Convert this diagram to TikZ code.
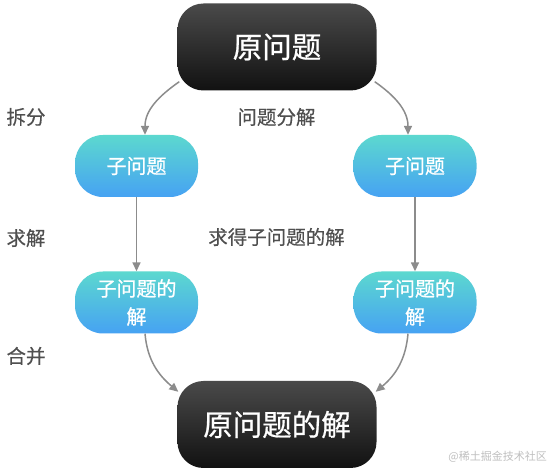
\documentclass[tikz,border=0pt]{standalone}
\usepackage{fontspec}
\setmainfont{Noto Sans CJK SC}
\newfontfamily\medfont[FakeBold=0.7]{Noto Sans CJK SC}
\newfontfamily\lblfont[FakeBold=0.3]{Noto Sans CJK SC}
\usetikzlibrary{calc,arrows.meta}
\definecolor{tealtop}{HTML}{5CD8CF}
\definecolor{bluebot}{HTML}{46A2F3}
\definecolor{darktop}{HTML}{4A4A4A}
\definecolor{darkbot}{HTML}{111111}
\definecolor{lblgray}{HTML}{4F4F4F}
\definecolor{arrgray}{HTML}{8C8C8C}
\tikzset{
  bigbox/.style={rounded corners=26pt, minimum width=199pt, minimum height=87pt,
    top color=darktop, bottom color=darkbot, draw=none, text=white,
    font=\medfont\fontsize{29.5}{34}\selectfont, inner sep=0pt},
  smallbox/.style={rounded corners=28pt, minimum width=123pt, minimum height=62pt,
    top color=tealtop, bottom color=bluebot, draw=none, text=white,
    font=\medfont\fontsize{20}{28}\selectfont, align=center, inner sep=0pt},
  lbl/.style={text=lblgray, font=\lblfont\fontsize{19.5}{22}\selectfont, inner sep=0pt},
  arr/.style={draw=arrgray, line width=1.5pt, -{Triangle[length=9pt,width=8pt]}},
  wm/.style={text=black!25, font=\fontsize{11}{13}\selectfont, inner sep=0pt, anchor=east}
}
\begin{document}
\begin{tikzpicture}[x=1pt,y=1pt]
\useasboundingbox (0,0) rectangle (552,471);
\fill[white] (0,0) rectangle (552,471);
\node[bigbox] (top) at (277,424) {原问题};
\node[smallbox] (s1) at (136.5,305) {子问题};
\node[smallbox] (s2) at (415,305) {子问题};
\node[smallbox] (r1) at (136.5,168.5) {子问题的\\解};
\node[smallbox] (r2) at (415,168.5) {子问题的\\解};
\node[bigbox] (bot) at (277,46.5) {原问题的解};
\node[lbl] (l1) at (276.5,354) {问题分解};
\node[lbl] (l2) at (26,354) {拆分};
\node[lbl] (l3) at (26,233) {求解};
\node[lbl] (l4) at (276.5,234) {求得子问题的解};
\node[lbl] (l5) at (26,115) {合并};
\node[wm] (w) at (547,14) {@稀土掘金技术社区};
\draw[arr] ($(top.south west)+(2,9)$) to[out=215,in=90] ($(s1.north)+(8.5,0)$);
\draw[arr] ($(top.south east)+(-2,9)$) to[out=-35,in=90] ($(s2.north)+(-7,0)$);
\draw[arr] (s1.south) -- (r1.north);
\draw[arr] (s2.south) -- (r2.north);
\draw[arr] ($(r1.south)+(8.5,0)$) to[out=-85,in=140] ($(bot.north west)+(1,-11)$);
\draw[arr] ($(r2.south)+(-7,0)$) to[out=-95,in=40] ($(bot.north east)+(-1,-11)$);
\end{tikzpicture}
\end{document}
